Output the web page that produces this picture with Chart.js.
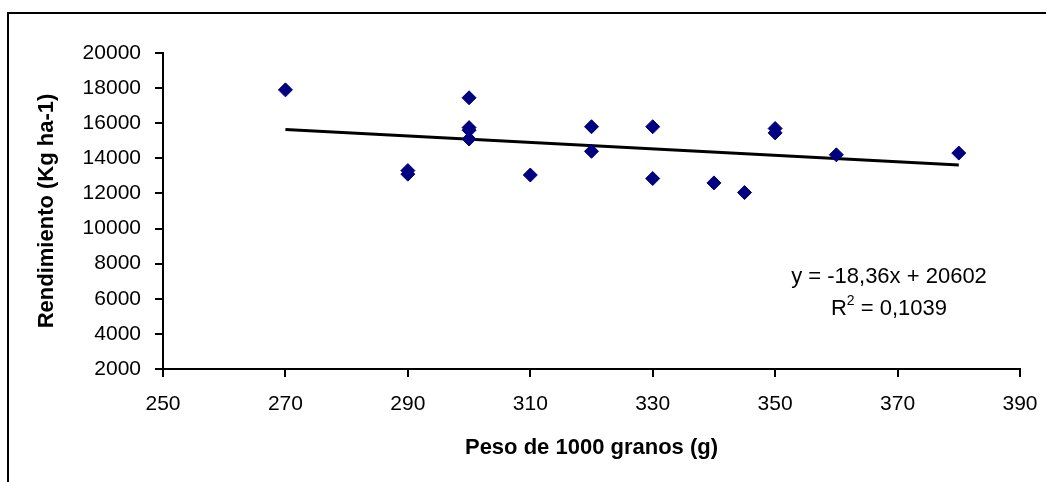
<!DOCTYPE html>
<html>
<head>
<meta charset="utf-8">
<script src="https://cdn.jsdelivr.net/npm/chart.js@4"></script>
<style>
  html, body { margin: 0; padding: 0; background: #fff; }
  #wrap { width: 1046px; height: 482px; position: relative; }
</style>
</head>
<body>
<div id="wrap"><canvas id="grafico"></canvas></div>
<script>
// Peso de 1000 granos (g) vs rendimiento (Kg ha-1)
const pesos = [270, 290, 290, 300, 300, 300, 300, 310, 320, 320, 330, 330, 340, 345, 350, 350, 360, 380];
const rendimientos = [17900, 13300, 13100, 17450, 15750, 15600, 15100, 13050, 15800, 14400, 15800, 12850, 12600, 12050, 15700, 15450, 14200, 14300];

const tendenciaX = [270, 380];
const tendenciaY = [15645, 13625];

const ecuacion = 'y = -18,36x + 20602';
const r2 = '0,1039';

const fuente = "'Liberation Sans', Arial, sans-serif";

// marco exterior + ecuación
const extras = {
    id: 'extras',
    beforeDraw(chart) {
        const ctx = chart.ctx;
        ctx.save();
        ctx.fillStyle = '#fff';
        ctx.fillRect(0, 0, chart.width, chart.height);
        ctx.strokeStyle = '#000';
        ctx.lineWidth = 2;
        ctx.strokeRect(8, 13, chart.width + 20, chart.height + 20);
        ctx.restore();
    },
    afterDraw(chart) {
        const ctx = chart.ctx;
        const { x, y } = chart.scales;
        const cx = x.getPixelForValue(368.6);
        ctx.save();
        ctx.fillStyle = '#000';
        ctx.textBaseline = 'middle';
        ctx.font = `22px ${fuente}`;
        ctx.textAlign = 'center';
        ctx.fillText(ecuacion, cx, y.getPixelForValue(7250));

        // R² = ...
        const yy = y.getPixelForValue(5420);
        const parte1 = 'R';
        const parte3 = ' = ' + r2;
        ctx.font = `22px ${fuente}`;
        const w1 = ctx.measureText(parte1).width;
        const w3 = ctx.measureText(parte3).width;
        ctx.font = `14px ${fuente}`;
        const w2 = ctx.measureText('2').width;
        let px = cx - (w1 + w2 + w3) / 2;
        ctx.textAlign = 'left';
        ctx.font = `22px ${fuente}`;
        ctx.fillText(parte1, px, yy);
        px += w1;
        ctx.font = `14px ${fuente}`;
        ctx.fillText('2', px, yy - 8);
        px += w2;
        ctx.font = `22px ${fuente}`;
        ctx.fillText(parte3, px, yy);
        ctx.restore();
    }
};

document.addEventListener('DOMContentLoaded', () => {
    const ctx = document.getElementById('grafico').getContext('2d');
    const grafico = new Chart(ctx, {
        type: 'scatter',
        data: {
            datasets: [{
                label: 'Rendimiento',
                data: pesos.map((p, i) => ({ x: p, y: rendimientos[i] })),
                pointStyle: 'rectRot',
                pointRadius: 7,
                pointHoverRadius: 7,
                backgroundColor: '#000080',
                borderColor: '#000080',
                borderWidth: 1
            }, {
                label: 'Lineal',
                data: tendenciaX.map((p, i) => ({ x: p, y: tendenciaY[i] })),
                showLine: true,
                pointRadius: 0,
                borderColor: '#000',
                borderWidth: 3
            }]
        },
        options: {
            responsive: true,
            maintainAspectRatio: false,
            animation: false,
            layout: { padding: { top: 53, right: 26, bottom: 0, left: 0 } },
            scales: {
                x: {
                    type: 'linear',
                    min: 250,
                    max: 390,
                    afterFit: s => { s.height = 113; s.paddingLeft = 0; s.paddingRight = 0; },
                    border: { display: true, color: '#000', width: 2 },
                    grid: { drawOnChartArea: false, drawTicks: true, tickLength: 8, color: '#000', lineWidth: 2 },
                    ticks: { stepSize: 20, padding: 15, color: '#000', font: { family: fuente, size: 21 },
                             callback: v => String(v) },
                    title: {
                        display: true,
                        text: 'Peso de 1000 granos (g)',
                        color: '#000',
                        font: { family: fuente, size: 22, weight: 'bold' },
                        padding: { top: 0, bottom: 21 }
                    }
                },
                y: {
                    min: 2000,
                    max: 20000,
                    afterFit: s => { s.width = 163; s.paddingTop = 0; s.paddingBottom = 0; },
                    border: { display: true, color: '#000', width: 2 },
                    grid: { drawOnChartArea: false, drawTicks: true, tickLength: 8, color: '#000', lineWidth: 2 },
                    ticks: { stepSize: 2000, padding: 14, color: '#000', font: { family: fuente, size: 21 },
                             callback: v => String(v) },
                    title: {
                        display: true,
                        text: 'Rendimiento (Kg ha-1)',
                        color: '#000',
                        font: { family: fuente, size: 22, weight: 'bold' },
                        padding: { top: 34, bottom: 0 }
                    }
                }
            },
            plugins: {
                legend: { display: false },
                tooltip: { enabled: false }
            }
        },
        plugins: [extras]
    });
});
</script>
</body>
</html>
